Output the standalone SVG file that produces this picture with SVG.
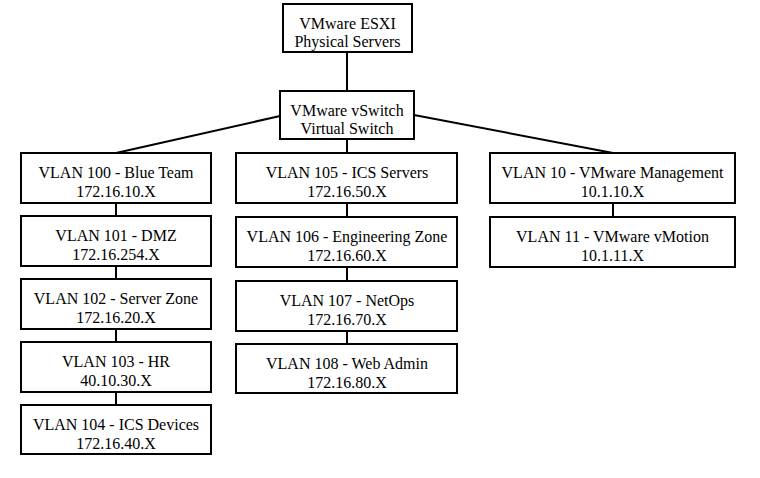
<svg xmlns="http://www.w3.org/2000/svg" width="760" height="478" viewBox="0 0 760 478">
<style>
.box{fill:#fff;stroke:#000;stroke-width:2}
.e{stroke:#000;stroke-width:2;fill:none}
text{font-family:"Liberation Serif","Times New Roman",serif;font-size:16px;text-anchor:middle;fill:#000}
</style>
<rect width="760" height="478" fill="#fff"/>
<g id="connectors">
<line class="e" x1="347" y1="52" x2="347" y2="91"/>
<line class="e" x1="280" y1="116" x2="116" y2="153"/>
<line class="e" x1="347" y1="139" x2="347" y2="153"/>
<line class="e" x1="414" y1="115" x2="613" y2="153"/>
<line class="e" x1="116" y1="203" x2="116" y2="216"/>
<line class="e" x1="116" y1="266" x2="116" y2="279"/>
<line class="e" x1="116" y1="329" x2="116" y2="342"/>
<line class="e" x1="116" y1="392" x2="116" y2="405"/>
<line class="e" x1="347" y1="203" x2="347" y2="217"/>
<line class="e" x1="347" y1="267" x2="347" y2="281"/>
<line class="e" x1="347" y1="331" x2="347" y2="344"/>
<line class="e" x1="613" y1="203" x2="613" y2="217"/>
</g>
<g id="esxi"><rect class="box" x="283" y="4" width="129" height="48"/><text x="347.5" y="28.5">VMware ESXI</text><text x="347.5" y="47">Physical Servers</text></g>
<g id="vswitch"><rect class="box" x="280" y="91" width="134" height="48"/><text x="347" y="115.5">VMware vSwitch</text><text x="347" y="134">Virtual Switch</text></g>
<g id="vlan100"><rect class="box" x="21" y="153" width="190" height="50"/><text x="116" y="177.5">VLAN 100 - Blue Team</text><text x="116" y="197">172.16.10.X</text></g>
<g id="vlan101"><rect class="box" x="21" y="216" width="190" height="50"/><text x="116" y="240.5">VLAN 101 - DMZ</text><text x="116" y="260">172.16.254.X</text></g>
<g id="vlan102"><rect class="box" x="21" y="279" width="190" height="50"/><text x="116" y="303.5">VLAN 102 - Server Zone</text><text x="116" y="323">172.16.20.X</text></g>
<g id="vlan103"><rect class="box" x="21" y="342" width="190" height="50"/><text x="116" y="366.5">VLAN 103 - HR</text><text x="116" y="386">40.10.30.X</text></g>
<g id="vlan104"><rect class="box" x="21" y="405" width="190" height="49"/><text x="116" y="429.5">VLAN 104 - ICS Devices</text><text x="116" y="449">172.16.40.X</text></g>
<g id="vlan105"><rect class="box" x="236" y="153" width="221" height="50"/><text x="347" y="177.5">VLAN 105 - ICS Servers</text><text x="347" y="197">172.16.50.X</text></g>
<g id="vlan106"><rect class="box" x="236" y="217" width="221" height="50"/><text x="347" y="241.5">VLAN 106 - Engineering Zone</text><text x="347" y="261">172.16.60.X</text></g>
<g id="vlan107"><rect class="box" x="236" y="281" width="221" height="50"/><text x="347" y="305.5">VLAN 107 - NetOps</text><text x="347" y="325">172.16.70.X</text></g>
<g id="vlan108"><rect class="box" x="236" y="344" width="221" height="49"/><text x="347" y="368.5">VLAN 108 - Web Admin</text><text x="347" y="388">172.16.80.X</text></g>
<g id="vlan10"><rect class="box" x="490" y="153" width="245" height="50"/><text x="612.5" y="177.5">VLAN 10 - VMware Management</text><text x="612.5" y="197">10.1.10.X</text></g>
<g id="vlan11"><rect class="box" x="490" y="217" width="245" height="50"/><text x="612.5" y="241.5">VLAN 11 - VMware vMotion</text><text x="612.5" y="261">10.1.11.X</text></g>
</svg>
